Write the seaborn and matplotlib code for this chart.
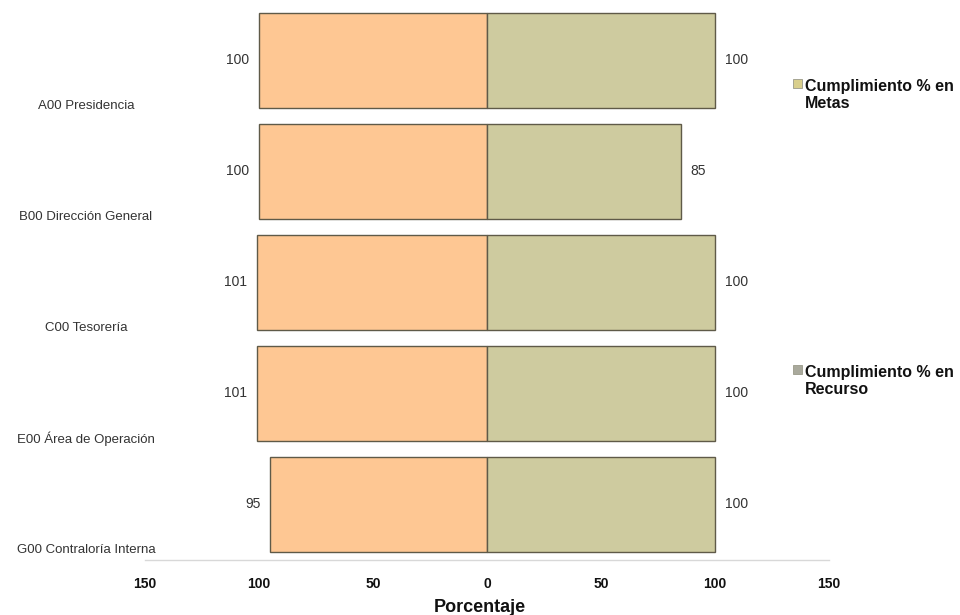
import matplotlib
matplotlib.use("Agg")
import matplotlib.pyplot as plt
import matplotlib.transforms as mtransforms
from matplotlib.patches import Rectangle
import pandas as pd
import seaborn as sns

# Unidades administrativas y porcentajes de cumplimiento
areas = [
    "A00 Presidencia",
    "B00 Dirección General",
    "C00 Tesorería",
    "E00 Área de Operación",
    "G00 Contraloría Interna",
]
recurso = [100, 100, 101, 101, 95]   # se dibuja hacia la izquierda
metas = [100, 85, 100, 100, 100]     # se dibuja hacia la derecha
xticks = [-150, -100, -50, 0, 50, 100, 150]
xticklabels = ["150", "100", "50", "0", "50", "100", "150"]

sns.set_theme(style="white")
plt.rcParams["font.family"] = ["Liberation Sans", "DejaVu Sans"]

COL_RECURSO = "#fec793"
COL_METAS = "#cecb9f"
EDGE = "#5f5a48"

df = pd.DataFrame({
    "area": areas * 2,
    "serie": ["Recurso"] * len(areas) + ["Metas"] * len(areas),
    "valor": [-v for v in recurso] + list(metas),
})

fig = plt.figure(figsize=(9.6, 6.15), dpi=100)
ax = fig.add_axes([145 / 960, 55 / 615, 684 / 960, 560 / 615])

sns.barplot(
    data=df, y="area", x="valor", hue="serie", orient="h", dodge=False,
    palette={"Recurso": COL_RECURSO, "Metas": COL_METAS}, saturation=1,
    order=areas, hue_order=["Recurso", "Metas"], width=0.856,
    edgecolor=EDGE, linewidth=1.0, errorbar=None, legend=False, ax=ax,
)

ax.set_xlim(-150, 150)
ax.set_ylim(4.5, -0.545)
ax.set_xticks(xticks)
ax.set_xticklabels(xticklabels, fontweight="bold", fontsize=10, color="#111111")
ax.tick_params(axis="x", length=0, pad=12)
ax.set_yticks([])
ax.set_ylabel("")
for side in ("top", "right", "left"):
    ax.spines[side].set_visible(False)
ax.spines["bottom"].set_color("#d8d8d8")
ax.spines["bottom"].set_linewidth(1.0)

ax.set_xlabel("Porcentaje", fontweight="bold", fontsize=13, color="#111111")
ax.xaxis.set_label_coords(0.49, -47 / 560)
ax.xaxis.label.set_va("center")

# Etiquetas de valor en el extremo de cada barra
for i, (r, m) in enumerate(zip(recurso, metas)):
    ax.annotate(str(r), xy=(-r, i), xytext=(-7, 0), textcoords="offset points",
                ha="right", va="center", fontsize=10, color="#333333")
    ax.annotate(str(m), xy=(m, i), xytext=(7, 0), textcoords="offset points",
                ha="left", va="center", fontsize=10, color="#333333")

# Nombres de las áreas bajo cada barra, a la izquierda
trans = mtransforms.blended_transform_factory(fig.transFigure, ax.transData)
for i, name in enumerate(areas):
    ax.text(86 / 960, i + 0.41, name, transform=trans, ha="center", va="center",
            fontsize=9.5, color="#333333", clip_on=False)

# Leyenda
def legend_item(y_marker, y_text, color, label):
    fig.patches.append(Rectangle((793 / 960, 1 - (y_marker + 4.5) / 615), 9 / 960, 9 / 615,
                                 transform=fig.transFigure, facecolor=color,
                                 edgecolor="#9a9a8a", linewidth=0.6))
    fig.text(805 / 960, 1 - y_text / 615, label, ha="left", va="center",
             fontsize=11.5, fontweight="bold", color="#111111", linespacing=1.2)

legend_item(83, 95, "#d9cf8c", "Cumplimiento % en\nMetas")
legend_item(369, 381, "#a9a99c", "Cumplimiento % en\nRecurso")

fig.savefig("out.png", dpi=100, facecolor="white")
